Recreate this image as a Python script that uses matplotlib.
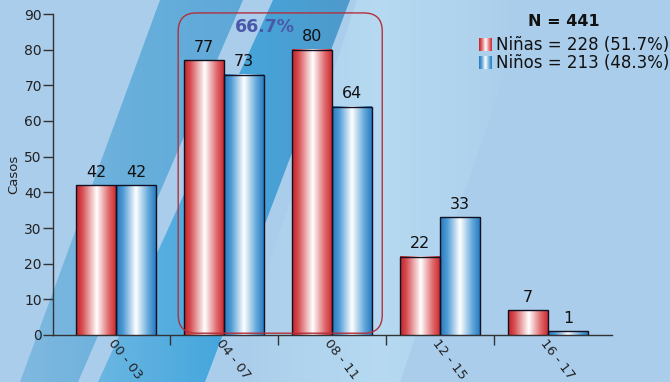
import numpy as np
import matplotlib
matplotlib.use("Agg")
import matplotlib.pyplot as plt
from matplotlib.colors import LinearSegmentedColormap
from matplotlib.patches import Polygon, FancyBboxPatch

# data
groups = ["00 - 03", "04 - 07", "08 - 11", "12 - 15", "16 - 17"]
ninas = [42, 77, 80, 22, 7]
ninos = [42, 73, 64, 33, 1]
series_names = ["Niñas", "Niños"]
highlight = [1, 2]  # groups inside the rounded box

W, H = 670, 382
fig = plt.figure(figsize=(W / 100, H / 100), dpi=100)
fig.patch.set_facecolor("#aacdeb")

# background stripes, drawn in pixel coords
bg = fig.add_axes([0, 0, 1, 1], zorder=-5)
bg.set_xlim(0, W)
bg.set_ylim(H, 0)
bg.axis("off")


def grad_poly(axx, pts, colors, alpha=1.0):
    cmap = LinearSegmentedColormap.from_list("g", colors)
    xs = [p[0] for p in pts]
    poly = Polygon(pts, closed=True, facecolor="none", edgecolor="none")
    axx.add_patch(poly)
    im = axx.imshow(np.linspace(0, 1, 256)[None, :], cmap=cmap, aspect="auto",
                    extent=[min(xs), max(xs), H, 0], alpha=alpha, zorder=1)
    im.set_clip_path(poly)


grad_poly(bg, [(230, 382), (400, 382), (530, 0), (357, 0)],
          ["#aacdeb", "#b9dcf3", "#aacdeb"], alpha=0.9)
grad_poly(bg, [(20, 382), (78, 382), (243, 0), (160, 0)],
          ["#80b9e0", "#68afdb", "#5ea8d8"])
grad_poly(bg, [(98, 382), (205, 382), (350, 0), (273, 0)],
          ["#6ab6e2", "#44a6dd", "#4f9acb"])

ax = fig.add_axes([53 / W, 47 / H, 559 / W, 321 / H])
ax.set_facecolor("none")

x = np.arange(len(groups))
bw = 0.37
red_cmap = LinearSegmentedColormap.from_list(
    "r", [(0, "#c22226"), (0.15, "#d54a4e"), (0.52, "#ffffff"), (0.82, "#e06a6e"), (1, "#c82c30")])
blue_cmap = LinearSegmentedColormap.from_list(
    "b", [(0, "#2677bd"), (0.18, "#4f9bd5"), (0.5, "#ffffff"), (0.82, "#5fa6da"), (1, "#2a7bbf")])

grad = np.linspace(0, 1, 256)[None, :]
for vals, off, cmap in [(ninas, -bw / 2, red_cmap), (ninos, bw / 2, blue_cmap)]:
    bars = ax.bar(x + off, vals, bw, facecolor="none", edgecolor="#111122",
                  linewidth=1.0, zorder=4)
    for b, v in zip(bars, vals):
        x0, y0 = b.get_x(), b.get_y()
        ax.imshow(grad, cmap=cmap, aspect="auto", zorder=3,
                  extent=[x0, x0 + b.get_width(), y0, y0 + b.get_height()])
        ax.text(x0 + b.get_width() / 2, v + 1.5, str(v), ha="center", va="bottom",
                fontsize=11.5, color="#111111", zorder=5)

ax.set_xlim(-0.585, 4.59)
ax.set_ylim(0, 90)

# rounded box around the highlighted groups
bx0 = highlight[0] - 0.5 + 0.074
bx1 = highlight[-1] + 0.5 - 0.037
box = FancyBboxPatch((bx0, 0.5), bx1 - bx0, 89.8,
                     boxstyle="round,pad=0,rounding_size=0.17",
                     mutation_aspect=30.3, facecolor="none",
                     edgecolor="#b3303c", linewidth=1.0, zorder=6, clip_on=False)
ax.add_patch(box)
total = sum(ninas) + sum(ninos)
hl = sum(ninas[i] + ninos[i] for i in highlight)
ax.text(1.38, 86.4, f"{100 * hl / total:.1f}%", ha="center", va="center",
        fontsize=12.5, fontweight="bold", color="#4a58a8", zorder=6)

# axes styling
for s in ["top", "right"]:
    ax.spines[s].set_visible(False)
for s in ["left", "bottom"]:
    ax.spines[s].set_color("#333333")
    ax.spines[s].set_linewidth(1.0)
ax.set_yticks(np.arange(0, 91, 10))
ax.tick_params(axis="y", direction="out", length=7, width=1, color="#333333",
               labelsize=10, labelcolor="#222222", pad=1)
ax.set_xticks(x)
ax.set_xticklabels(groups, rotation=-52, ha="left", rotation_mode="anchor",
                   fontsize=9.5, color="#222222")
ax.tick_params(axis="x", which="major", length=0, pad=1)
ax.set_xticks(np.arange(0.5, len(groups) - 1, 1), minor=True)
ax.tick_params(axis="x", which="minor", direction="out", length=7, width=1,
               color="#333333")
ax.set_ylabel("Casos", fontsize=9.5, color="#222222", labelpad=3)

# legend, pixel coords overlay
lg = fig.add_axes([0, 0, 1, 1], zorder=10)
lg.set_xlim(0, W)
lg.set_ylim(H, 0)
lg.axis("off")
lg.text(564, 22, f"N = {total}", ha="center", va="center", fontsize=11.5,
        fontweight="bold", color="#111111")
for i, (name, vals, cmap) in enumerate(zip(series_names, [ninas, ninos],
                                           [red_cmap, blue_cmap])):
    yc = 44.5 + i * 18.5
    lg.imshow(grad, cmap=cmap, aspect="auto", extent=[479, 492, yc + 6.5, yc - 6.5])
    lg.text(496, yc, f"{name} = {sum(vals)} ({100 * sum(vals) / total:.1f}%)",
            ha="left", va="center", fontsize=12, color="#111111")
lg.set_xlim(0, W)
lg.set_ylim(H, 0)

fig.savefig("out.png", dpi=100, facecolor=fig.get_facecolor())
